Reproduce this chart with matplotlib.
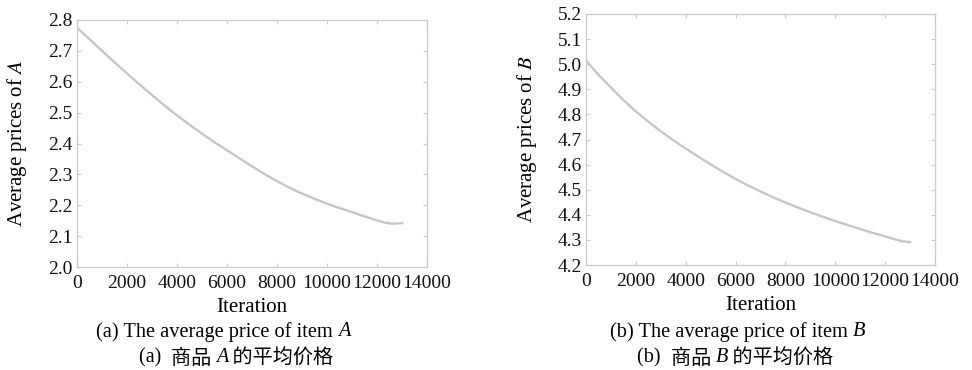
import numpy as np
import matplotlib
matplotlib.use("Agg")
import matplotlib.pyplot as plt

plt.rcParams['font.family'] = ['Liberation Serif', 'DejaVu Serif']
plt.rcParams['mathtext.fontset'] = 'stix'

iters_a = [0, 500, 1000, 1500, 2000, 2500, 3000, 3500, 4000, 4500, 5000, 5500, 6000, 6500,
           7000, 7500, 8000, 8500, 9000, 9500, 10000, 10500, 11000, 11500, 12000, 12300, 12600, 13000]
price_a = [2.775, 2.738, 2.700, 2.663, 2.627, 2.591, 2.557, 2.523, 2.491, 2.461, 2.432, 2.404,
           2.378, 2.352, 2.326, 2.301, 2.278, 2.257, 2.238, 2.221, 2.205, 2.191, 2.178, 2.164,
           2.151, 2.144, 2.140, 2.142]
iters_b = [0, 500, 1000, 1500, 2000, 2500, 3000, 3500, 4000, 4500, 5000, 5500, 6000, 6500,
           7000, 7500, 8000, 8500, 9000, 9500, 10000, 10500, 11000, 11500, 12000, 12400, 12700, 13000]
price_b = [5.014, 4.958, 4.907, 4.857, 4.812, 4.771, 4.733, 4.697, 4.664, 4.632, 4.601, 4.571,
           4.543, 4.517, 4.493, 4.470, 4.449, 4.429, 4.410, 4.392, 4.375, 4.359, 4.343, 4.328,
           4.314, 4.302, 4.294, 4.291]

yticks_a = [2.0, 2.1, 2.2, 2.3, 2.4, 2.5, 2.6, 2.7, 2.8]
yticks_b = [4.2, 4.3, 4.4, 4.5, 4.6, 4.7, 4.8, 4.9, 5.0, 5.1, 5.2]
xticks = [0, 2000, 4000, 6000, 8000, 10000, 12000, 14000]

W, H = 972, 370
fig = plt.figure(figsize=(W / 100, H / 100), dpi=100)

frame_col = '#cccccc'
line_col = '#c6c6c6'


def add_axes(px_left, px_right, px_top, px_bottom):
    return fig.add_axes([px_left / W, 1 - px_bottom / H,
                         (px_right - px_left) / W, (px_bottom - px_top) / H])


ax1 = add_axes(77, 427, 20, 267)
ax2 = add_axes(586, 935, 14, 265)

panels = [
    (ax1, iters_a, price_a, yticks_a, r'Average prices of $A$', 17, 308),
    (ax2, iters_b, price_b, yticks_b, r'Average prices of $B$', 527, 305),
]

for ax, xs, ys, yt, lab, ylab_x, xlab_y in panels:
    ax.plot(xs, ys, color=line_col, lw=1.7)
    ax.set_xlim(0, 14000)
    ax.set_ylim(yt[0], yt[-1])
    ax.set_xticks(xticks)
    ax.set_yticks(yt)
    ax.set_yticklabels([f'{v:.1f}' for v in yt])
    ax.tick_params(direction='in', top=True, right=True, length=3,
                   color=frame_col, labelsize=14, labelcolor='#111111')
    ax.tick_params(axis='x', pad=6)
    ax.tick_params(axis='y', pad=3)
    for s in ax.spines.values():
        s.set_color(frame_col)
        s.set_linewidth(1.0)
    ax.set_xlabel('Iteration', fontsize=15)
    ax.set_ylabel(lab, fontsize=15)
    # label positions from the picture (pixels -> axes coords)
    pos = ax.get_position()
    x0, x1 = pos.x0 * W, pos.x1 * W
    ytop, ybot = (1 - pos.y1) * H, (1 - pos.y0) * H
    ax.yaxis.set_label_coords((ylab_x - x0) / (x1 - x0), 0.5)
    ax.yaxis.label.set_va('center')
    ax.xaxis.set_label_coords(0.5, -(xlab_y - ybot) / (ybot - ytop))
    ax.xaxis.label.set_va('center')

fig.canvas.draw()
renderer = fig.canvas.get_renderer()


def pieces_text(cx, cy, pieces, size):
    # place several text pieces in a row, centred at (cx, cy) in pixels
    objs = []
    for txt, kw in pieces:
        t = fig.text(0, 1 - cy / H, txt, fontsize=size, va='center', ha='left', **kw)
        objs.append(t)
    widths = [t.get_window_extent(renderer).width for t in objs]
    x = cx - sum(widths) / 2
    for t, w in zip(objs, widths):
        t.set_x(x / W)
        x += w


serif = dict(family=['Liberation Serif'])
serif_it = dict(family=['Liberation Serif'], style='italic')
cjk = dict(family=['Noto Sans CJK SC'])

pieces_text(223, 332, [('(a) The average price of item ', serif), ('A', serif_it)], 14.7)
pieces_text(738, 332, [('(b) The average price of item ', serif), ('B', serif_it)], 14.7)
pieces_text(236, 358, [('(a)  ', serif), ('商品 ', cjk), ('A', serif_it), (' 的平均价格', cjk)], 14.5)
pieces_text(735, 358, [('(b)  ', serif), ('商品 ', cjk), ('B', serif_it), (' 的平均价格', cjk)], 14.5)

fig.savefig('out.png', dpi=100)
